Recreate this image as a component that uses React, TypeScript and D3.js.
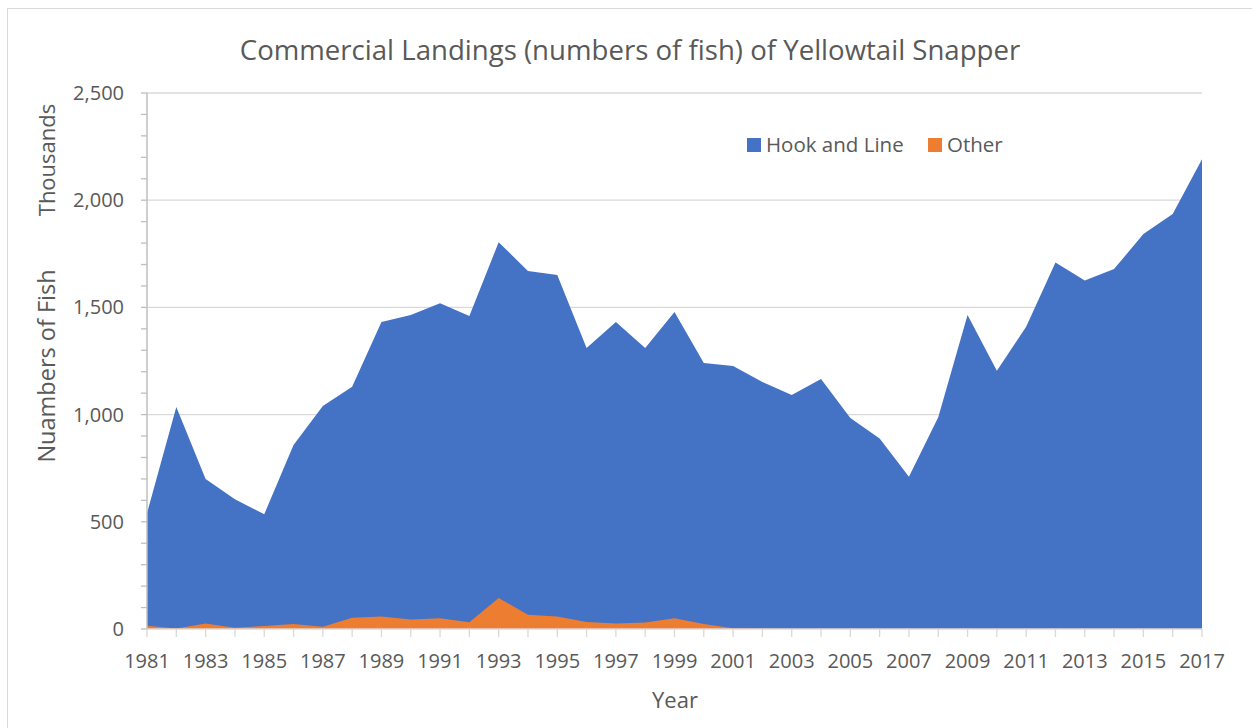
import React from "react";
import * as d3 from "d3";

const years: number[] = [
  1981, 1982, 1983, 1984, 1985, 1986, 1987, 1988, 1989, 1990, 1991, 1992,
  1993, 1994, 1995, 1996, 1997, 1998, 1999, 2000, 2001, 2002, 2003, 2004,
  2005, 2006, 2007, 2008, 2009, 2010, 2011, 2012, 2013, 2014, 2015, 2016, 2017,
];

// thousands of fish
const hookAndLine: number[] = [
  540, 1035, 700, 605, 535, 858, 1040, 1130, 1432, 1465, 1519, 1460,
  1804, 1670, 1651, 1311, 1432, 1311, 1479, 1241, 1227, 1152, 1091, 1166,
  984, 889, 710, 988, 1465, 1205, 1410, 1709, 1625, 1679, 1842, 1936, 2191,
];

const other: number[] = [
  15, 2, 26, 6, 14, 23, 11, 53, 58, 44, 50, 31,
  145, 67, 58, 33, 26, 30, 50, 23, 3, 2, 1, 1,
  1, 1, 1, 1, 1, 1, 1, 1, 1, 1, 1, 1, 1,
];

const yTicks: number[] = [0, 500, 1000, 1500, 2000, 2500];
const yMinorTicks: number[] = d3.range(0, 2501, 100);
const xLabelYears: number[] = years.filter((y) => (y - 1981) % 2 === 0);

const seriesNames = ["Hook and Line", "Other"];
const colors = ["#4472C4", "#ED7D31"];

const FONT = "'Open Sans', 'Noto Sans', sans-serif";
const TEXT = "#595959";

export default function App() {
  const x = d3.scaleLinear().domain([1981, 2017]).range([147, 1202]);
  const y = d3.scaleLinear().domain([0, 2500]).range([629, 93]);
  const fmt = d3.format(",");

  const area = d3
    .area<number>()
    .x((_, i) => x(years[i]))
    .y0(y(0))
    .y1((d) => y(d));

  const seriesData = [hookAndLine, other];

  return (
    <svg
      width={1252}
      height={728}
      style={{ position: "absolute", left: 0, top: 0, background: "#fff" }}
      fontFamily={FONT}
    >
      <rect x={7.5} y={8.5} width={1300} height={760} fill="#fff" stroke="#D9D9D9" strokeWidth={1} />

      {/* title */}
      <text x={630} y={60} textAnchor="middle" fontSize={27.6} fill={TEXT}>
        Commercial Landings (numbers of fish) of Yellowtail Snapper
      </text>

      {/* gridlines */}
      {yTicks.filter((t) => t > 0).map((t) => (
        <line key={"g" + t} x1={147} x2={1202} y1={y(t)} y2={y(t)} stroke="#D9D9D9" strokeWidth={1.3} />
      ))}

      {/* areas */}
      {seriesData.map((s, i) => (
        <path key={"a" + i} d={area(s) || ""} fill={colors[i]} />
      ))}

      {/* y axis */}
      <line x1={147} x2={147} y1={y(2500)} y2={y(0)} stroke="#BFBFBF" strokeWidth={1.5} />
      {yMinorTicks.map((t) => (
        <line key={"ym" + t} x1={141} x2={147} y1={y(t)} y2={y(t)} stroke="#BFBFBF" strokeWidth={1.3} />
      ))}
      {yTicks.map((t) => (
        <text key={"yl" + t} x={124} y={y(t) + 7} textAnchor="end" fontSize={20} fill={TEXT}>
          {fmt(t)}
        </text>
      ))}

      {/* x axis */}
      <line x1={147} x2={1202} y1={y(0)} y2={y(0)} stroke="#D9D9D9" strokeWidth={1.5} />
      {years.map((yr) => (
        <line key={"xt" + yr} x1={x(yr)} x2={x(yr)} y1={y(0)} y2={y(0) + 8} stroke="#D9D9D9" strokeWidth={1.3} />
      ))}
      {xLabelYears.map((yr) => (
        <text key={"xl" + yr} x={x(yr)} y={668} textAnchor="middle" fontSize={20} fill={TEXT}>
          {yr}
        </text>
      ))}

      {/* axis titles */}
      <text x={675} y={708} textAnchor="middle" fontSize={22} fill={TEXT}>
        Year
      </text>
      <text
        transform={`translate(55, ${(y(0) + y(2500)) / 2 + 5}) rotate(-90)`}
        textAnchor="middle"
        fontSize={23.5}
        fill={TEXT}
      >
        Nuambers of Fish
      </text>
      <text transform="translate(55, 160) rotate(-90)" textAnchor="middle" fontSize={22} fill={TEXT}>
        Thousands
      </text>

      {/* legend */}
      <rect x={747} y={138} width={14} height={14} fill={colors[0]} />
      <text x={766} y={152} fontSize={20.5} fill={TEXT}>
        {seriesNames[0]}
      </text>
      <rect x={928} y={138} width={14} height={14} fill={colors[1]} />
      <text x={947} y={152} fontSize={20.5} fill={TEXT}>
        {seriesNames[1]}
      </text>
    </svg>
  );
}
